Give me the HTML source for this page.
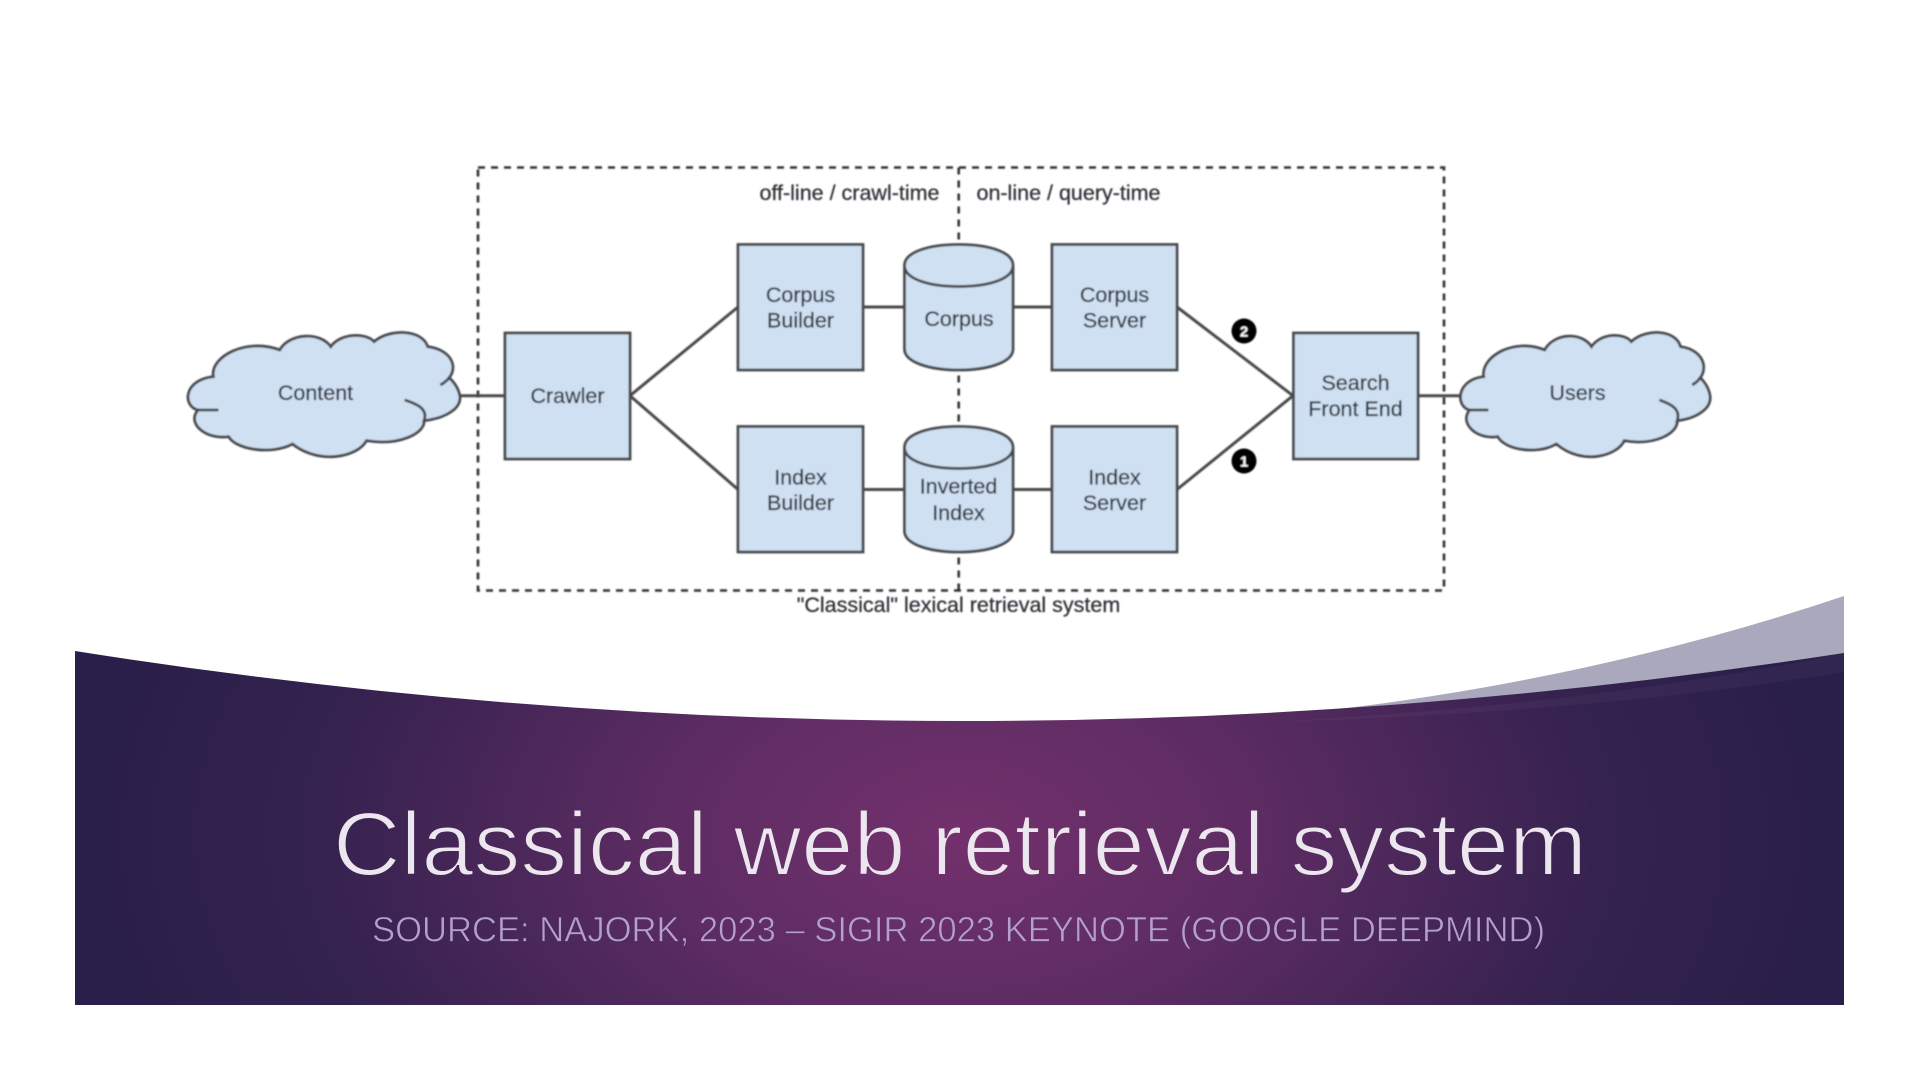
<!DOCTYPE html>
<html><head><meta charset="utf-8"><style>
html,body{margin:0;padding:0;background:#fff;width:1920px;height:1080px;overflow:hidden}
svg{display:block}
text{font-family:"Liberation Sans",sans-serif}
.d text{font-size:21.5px;fill:#2b2f36;stroke:#2b2f36;stroke-width:.25;text-anchor:middle}
.b{fill:#cfe0f3;stroke:#47494c;stroke-width:2.8}
.l{stroke:#4a4a48;stroke-width:3;fill:none}
.dash{stroke:#333;stroke-width:2.6;fill:none;stroke-dasharray:7 6}
</style></head><body>
<svg width="1920" height="1080" viewBox="0 0 1920 1080" xmlns="http://www.w3.org/2000/svg">
<defs>
<radialGradient id="g" gradientUnits="userSpaceOnUse" cx="960" cy="835" r="860" gradientTransform="translate(0,835) scale(1,.62) translate(0,-835)">
<stop offset="0" stop-color="#73306c"/><stop offset=".35" stop-color="#5c2c62"/><stop offset=".75" stop-color="#35224f"/><stop offset="1" stop-color="#2a1f4a"/>
</radialGradient>
<filter id="bl" x="-5%" y="-5%" width="110%" height="110%"><feGaussianBlur stdDeviation="0.75"/></filter>
<path id="cf" d="M568,737 C572,775 540,805 498,812 C500,850 450,888 385,872 C370,918 295,948 240,882 C200,915 130,900 115,860 C70,870 32,820 55,780 C25,770 25,690 85,680 C78,620 150,562 215,600 C235,548 295,545 315,590 C335,548 385,548 400,575 C430,535 495,538 505,590 C558,600 572,670 545,680 C560,700 566,720 568,737 Z"/>
<path id="cs" vector-effect="non-scaling-stroke" d="M568,737 C572,775 540,805 498,812 C505,780 490,765 460,750 M498,812 C500,850 450,888 385,872 C370,918 295,948 240,882 C200,915 130,900 115,860 C70,870 32,820 55,780 L95,780 M55,780 C25,770 25,690 85,680 C78,620 150,562 215,600 C235,548 295,545 315,590 C335,548 385,548 400,575 C430,535 495,538 505,590 C558,600 572,670 530,705 M545,680 C560,700 566,720 568,737"/>
</defs>
<path d="M1300,725 L1347,708 Q1606,676 1844,596 L1844,700 Z" fill="#aaa8bc"/>
<path d="M75,651 Q955,790 1844,653 L1844,1005 L75,1005 Z" fill="url(#g)"/>
<path d="M1270,722 Q1600,704 1844,653 L1844,672 Q1600,712 1270,722 Z" fill="#fff" opacity=".035"/>
<g class="d" filter="url(#bl)">
<rect class="dash" x="478" y="167.5" width="966" height="423"/>
<line class="dash" x1="958.7" y1="167.5" x2="958.7" y2="590.5"/>
<g class="l">
<line x1="460" y1="395.7" x2="505" y2="395.7"/>
<line x1="630" y1="395.7" x2="738" y2="307"/>
<line x1="630" y1="395.7" x2="738" y2="489.5"/>
<line x1="863" y1="307" x2="905" y2="307"/>
<line x1="863" y1="489.5" x2="905" y2="489.5"/>
<line x1="1013" y1="307" x2="1052" y2="307"/>
<line x1="1013" y1="489.5" x2="1052" y2="489.5"/>
<line x1="1177" y1="307" x2="1293" y2="395.7"/>
<line x1="1177" y1="489.5" x2="1293" y2="395.7"/>
<line x1="1418" y1="395.7" x2="1462" y2="395.7"/>
</g>
<g fill="#cfe0f3" stroke="#47494c" stroke-width="2.8">
<use href="#cf" stroke="none" transform="translate(170,150) scale(.5102,.3333)"/>
<use href="#cs" fill="none" transform="translate(170,150) scale(.5102,.3333)"/>
<use href="#cf" stroke="none" transform="translate(1443.9,150) scale(.4685,.3333)"/>
<use href="#cs" fill="none" transform="translate(1443.9,150) scale(.4685,.3333)"/>
</g>
<rect class="b" x="505" y="333" width="125" height="126"/>
<rect class="b" x="738" y="244.5" width="125" height="125.5"/>
<rect class="b" x="738" y="426.5" width="125" height="125.5"/>
<rect class="b" x="1052" y="244.5" width="125" height="125.5"/>
<rect class="b" x="1052" y="426.5" width="125" height="125.5"/>
<rect class="b" x="1293.5" y="333" width="124.5" height="126"/>
<path class="b" d="M904.5,265.5 V349 C904.5,362 929,370 958.7,370 C989,370 1013,362 1013,349 V265.5 C1013,252 989,244.5 958.7,244.5 C929,244.5 904.5,252 904.5,265.5 C904.5,279 929,286.5 958.7,286.5 C989,286.5 1013,279 1013,265.5"/>
<path class="b" d="M904.5,447.5 V531 C904.5,544 929,552 958.7,552 C989,552 1013,544 1013,531 V447.5 C1013,434 989,426.5 958.7,426.5 C929,426.5 904.5,434 904.5,447.5 C904.5,461 929,468.5 958.7,468.5 C989,468.5 1013,461 1013,447.5"/>
<circle cx="1244" cy="331" r="12.5" fill="#000"/><text x="1244" y="336.5" style="font-size:15px;font-weight:bold;fill:#fff;stroke:none">2</text>
<circle cx="1244" cy="461" r="12.5" fill="#000"/><text x="1244" y="466.5" style="font-size:15px;font-weight:bold;fill:#fff;stroke:none">1</text>
<text x="315.5" y="400">Content</text>
<text x="567.5" y="403">Crawler</text>
<text x="800.5" y="302">Corpus</text><text x="800.5" y="327.5">Builder</text>
<text x="959" y="326">Corpus</text>
<text x="800.5" y="484.5">Index</text><text x="800.5" y="510">Builder</text>
<text x="958.5" y="493.5">Inverted</text><text x="958.5" y="520">Index</text>
<text x="1114.5" y="302">Corpus</text><text x="1114.5" y="327.5">Server</text>
<text x="1114.5" y="484.5">Index</text><text x="1114.5" y="510">Server</text>
<text x="1355.5" y="390">Search</text><text x="1355.5" y="416">Front End</text>
<text x="1577.5" y="400">Users</text>
<text x="849.5" y="200">off-line / crawl-time</text>
<text x="1068.5" y="200">on-line / query-time</text>
<text x="958.5" y="612">"Classical" lexical retrieval system</text>
</g>
<text x="333" y="875" font-size="90" textLength="1254" lengthAdjust="spacingAndGlyphs" fill="#ece6ee" stroke="url(#g)" stroke-width="2">Classical web retrieval system</text>
<text x="372" y="941.5" font-size="35" textLength="1173" lengthAdjust="spacingAndGlyphs" fill="#b3a0cc" stroke="url(#g)" stroke-width=".7">SOURCE: NAJORK, 2023 – SIGIR 2023 KEYNOTE (GOOGLE DEEPMIND)</text>
</svg>
</body></html>
